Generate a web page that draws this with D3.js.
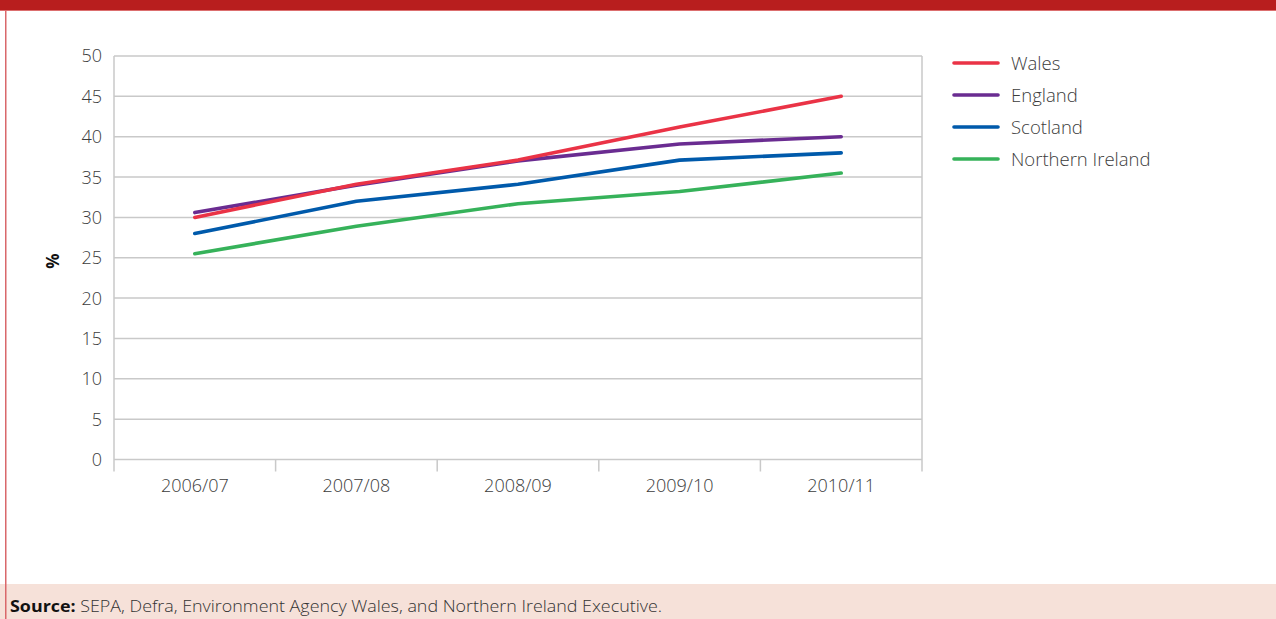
<!DOCTYPE html>
<html>
<head>
<meta charset="utf-8">
<script src="https://cdn.jsdelivr.net/npm/d3@7"></script>
<style>
  html, body { margin: 0; padding: 0; background: #fff; }
  svg { display: block; }
  text { font-family: "Open Sans", "Noto Sans", sans-serif; }
</style>
</head>
<body>
<svg id="chart" width="1276" height="619"></svg>
<script>
// Recycling rates by nation, per financial year (%)
const years = ["2006/07", "2007/08", "2008/09", "2009/10", "2010/11"];
const wales = [30.0, 34.1, 37.1, 41.2, 45.0];
const england = [30.6, 34.0, 37.0, 39.1, 40.0];
const scotland = [28.0, 32.0, 34.1, 37.1, 38.0];
const northernIreland = [25.5, 28.9, 31.7, 33.2, 35.5];
const seriesNames = ["Wales", "England", "Scotland", "Northern Ireland"];
const seriesColors = ["#ea3346", "#6a2c91", "#005aab", "#36b25a"];
const yTicks = [0, 5, 10, 15, 20, 25, 30, 35, 40, 45, 50];

const series = [wales, england, scotland, northernIreland].map((v, i) => ({
  name: seriesNames[i], color: seriesColors[i], values: v
}));

const svg = d3.select("#chart");
const W = 1276, H = 619;

// Page frame: header band, left rule, source panel
svg.append("rect").attr("x", 0).attr("y", 0).attr("width", W).attr("height", 10).attr("fill", "#b81e1e");
svg.append("rect").attr("x", 0).attr("y", 10).attr("width", W).attr("height", 1).attr("fill", "#dc6f6f");
svg.append("rect").attr("x", 0).attr("y", 584).attr("width", W).attr("height", H - 584).attr("fill", "#f6e1d9");
svg.append("rect").attr("x", 5).attr("y", 10).attr("width", 1.5).attr("height", H - 10).attr("fill", "#d9686b");

const plot = { left: 114, right: 922, top: 56, bottom: 459.5 };

const x = d3.scaleBand().domain(years).range([plot.left, plot.right]).paddingInner(0).paddingOuter(0);
const y = d3.scaleLinear().domain([0, 50]).range([plot.bottom, plot.top]);

const gridColor = "#c9c9c9";

// Horizontal gridlines
svg.append("g").selectAll("line").data(yTicks).join("line")
  .attr("x1", plot.left).attr("x2", plot.right)
  .attr("y1", d => y(d)).attr("y2", d => y(d))
  .attr("stroke", gridColor).attr("stroke-width", 1.5);

// Vertical frame lines and category tick marks
const bounds = years.map(d => x(d)).concat([plot.right]);
svg.append("g").selectAll("line").data(bounds).join("line")
  .attr("x1", d => d).attr("x2", d => d)
  .attr("y1", (d, i) => (i === 0 || i === bounds.length - 1) ? plot.top : plot.bottom)
  .attr("y2", plot.bottom + 12)
  .attr("stroke", gridColor).attr("stroke-width", 1.5);

// Y axis labels
svg.append("g").selectAll("text").data(yTicks).join("text")
  .attr("x", 102).attr("y", d => y(d))
  .attr("dy", "0.36em")
  .attr("text-anchor", "end")
  .attr("font-size", 18).attr("font-weight", 300)
  .attr("fill", "#3c3c3c")
  .text(d => d);

// X axis labels
svg.append("g").selectAll("text").data(years).join("text")
  .attr("x", d => x(d) + x.bandwidth() / 2).attr("y", 492)
  .attr("text-anchor", "middle")
  .attr("font-size", 18).attr("font-weight", 300)
  .attr("fill", "#3c3c3c")
  .text(d => d);

// Y axis title
svg.append("text")
  .attr("transform", "translate(59,261) rotate(-90)")
  .attr("text-anchor", "middle")
  .attr("font-size", 17).attr("font-weight", 700)
  .attr("fill", "#111")
  .text("%");

// Series lines (drawn bottom-up so Wales sits on top)
const line = d3.line()
  .x((d, i) => x(years[i]) + x.bandwidth() / 2)
  .y(d => y(d));

svg.append("g").selectAll("path").data(series.slice().reverse()).join("path")
  .attr("d", d => line(d.values))
  .attr("fill", "none")
  .attr("stroke", d => d.color)
  .attr("stroke-width", 3.6)
  .attr("stroke-linecap", "round")
  .attr("stroke-linejoin", "round");

// Legend
const legend = svg.append("g").selectAll("g").data(series).join("g")
  .attr("transform", (d, i) => `translate(954,${63 + i * 32})`);
legend.append("line")
  .attr("x1", 0).attr("x2", 44).attr("y1", 0).attr("y2", 0)
  .attr("stroke", d => d.color).attr("stroke-width", 3.6).attr("stroke-linecap", "round");
legend.append("text")
  .attr("x", 57).attr("y", 0).attr("dy", "0.36em")
  .attr("font-size", 18.5).attr("font-weight", 300)
  .attr("fill", "#3c3c3c")
  .text(d => d.name);

// Source note
const src = svg.append("text").attr("x", 10).attr("y", 612)
  .attr("font-size", 16.5).attr("fill", "#333")
  .attr("textLength", 652).attr("lengthAdjust", "spacingAndGlyphs");
src.append("tspan").attr("font-weight", 700).attr("fill", "#111").text("Source:");
src.append("tspan").attr("font-weight", 300).text(" SEPA, Defra, Environment Agency Wales, and Northern Ireland Executive.");
</script>
</body>
</html>
